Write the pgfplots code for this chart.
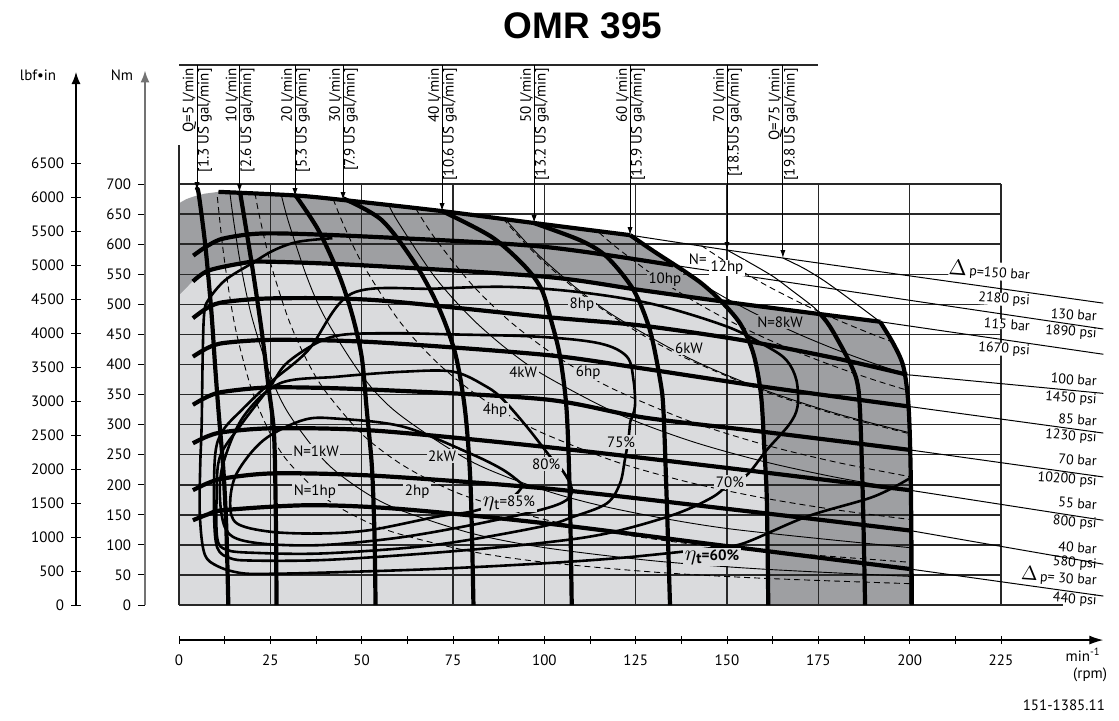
\documentclass[border=0pt]{standalone}
\usepackage{fontspec}
\setmainfont{PT Sans}
\newfontfamily\titlefont{Liberation Sans}
\usepackage{pgfplots}
\pgfplotsset{compat=1.18}
\usetikzlibrary{arrows.meta}

\definecolor{lightreg}{RGB}{218,219,221}
\definecolor{darkreg}{RGB}{158,159,162}
\definecolor{gridc}{RGB}{40,40,40}

\pgfplotsset{
  qthick/.style={black, line width=2.1pt, smooth, tension=0.5},
  qthin/.style={black, line width=0.5pt, smooth, tension=0.5},
  pthick/.style={black, line width=2.1pt, smooth, tension=0.5},
  pthin/.style={black, line width=0.5pt},
  eta/.style={black, line width=1.3pt, smooth, tension=0.55},
  kw/.style={black, line width=0.45pt, smooth},
  hp/.style={black, line width=0.45pt, smooth, dash pattern=on 3pt off 2pt},
  gridl/.style={gridc, line width=0.75pt},
}
\tikzset{
  lab/.style={font=\fontsize{7.5}{9}\selectfont, inner sep=0.8pt},
  plab/.style={font=\fontsize{7}{8}\selectfont, inner sep=0pt, rotate=-4},
}

% flow line: n at arrow, arrow tip T, two labels
\newcommand{\flow}[4]{%
  \node[lab, rotate=90, anchor=east, fill=white, inner sep=0pt] at (axis cs:{#1-2.05},893) {#3};
  \node[lab, rotate=90, anchor=east, fill=white, inner sep=0pt] at (axis cs:{#1+2.19},893) {#4};
  \addplot[black, line width=0.5pt, -{Latex[length=4pt,width=2.6pt]}] coordinates {(#1,898) (#1,#2)};
}

\begin{document}
\begin{tikzpicture}

% ---------- main chart (rpm vs Nm) ----------
\begin{axis}[
  at={(0pt,0pt)}, anchor=south west,
  x=1.8265pt, y=0.3007pt,
  xmin=0, xmax=225, ymin=0, ymax=700,
  hide axis, clip=false,
]
\path (axis cs:-49,-191.2) rectangle (axis cs:257.3,1006);

% intermittent (dark) and continuous (light) areas
\addplot[fill=darkreg, draw=none] coordinates {
  (0,0) (0,668) (2,675) (4.4,680) (7,684) (10.8,687) (31.8,681) (45,673.4)
  (72,655) (97.2,635.2) (123.5,615) (130,588) (137.1,560) (143,535)
  (148.5,505) (170,488) (192,471) (195.5,435) (198.3,396) (199.7,330)
  (200.3,213) (200.6,0)} \closedcycle;
\addplot[fill=lightreg, draw=none] coordinates {
  (0,0) (0,515) (2,527) (4,540) (8,556) (12,563) (17,568) (23.5,571)
  (50,565) (75,556) (100,546) (115,536) (126,524) (138,514) (148.5,505)
  (151.5,488) (153.6,468) (157.2,418.5) (159.3,350) (160.3,250)
  (160.9,175) (161.3,0)} \closedcycle;

% grid
\addplot[gridl] coordinates {(25,0) (25,700)};
\addplot[gridl] coordinates {(50,0) (50,700)};
\addplot[gridl] coordinates {(75,0) (75,700)};
\addplot[gridl] coordinates {(100,0) (100,700)};
\addplot[gridl] coordinates {(125,0) (125,700)};
\addplot[gridl] coordinates {(150,0) (150,700)};
\addplot[gridl] coordinates {(175,0) (175,700)};
\addplot[gridl] coordinates {(200,0) (200,700)};
\addplot[gridl] coordinates {(225,0) (225,700)};
\addplot[gridl] coordinates {(0,0) (242,0)};
\addplot[gridl] coordinates {(0,50) (225,50)};
\addplot[gridl] coordinates {(0,100) (225,100)};
\addplot[gridl] coordinates {(0,150) (225,150)};
\addplot[gridl] coordinates {(0,200) (225,200)};
\addplot[gridl] coordinates {(0,250) (225,250)};
\addplot[gridl] coordinates {(0,300) (225,300)};
\addplot[gridl] coordinates {(0,350) (225,350)};
\addplot[gridl] coordinates {(0,400) (225,400)};
\addplot[gridl] coordinates {(0,450) (225,450)};
\addplot[gridl] coordinates {(0,500) (225,500)};
\addplot[gridl] coordinates {(0,550) (225,550)};
\addplot[gridl] coordinates {(0,600) (225,600)};
\addplot[gridl] coordinates {(0,650) (225,650)};
\addplot[gridl] coordinates {(0,700) (225,700)};
\addplot[gridl] coordinates {(0,0) (0,765)};
\addplot[gridl] coordinates {(0,898) (175,898)};

% power lines, kW (solid) and hp (dashed)
\addplot[kw] coordinates {(13.9,687) (15,636.6) (17,561.7) (20,477.5) (25,382) (30,318.3) (40,238.7) (50,191) (60,159.2) (80,119.4) (100,95.5) (130,73.5) (160,59.7) (200,47.7)};
\addplot[kw] coordinates {(28,682) (30,636.6) (35,545.7) (40,477.5) (50,382) (60,318.3) (80,238.7) (100,191) (120,159.2) (150,127.3) (200,95.5)};
\addplot[kw] coordinates {(57.3,666.6) (60,636.6) (70,545.7) (80,477.5) (90,424.4) (100,382) (120,318.3) (140,272.8) (160,238.7) (180,212.2) (200,191)};
\addplot[kw] coordinates {(89,643.8) (95,603.1) (100,573) (110,520.9) (120,477.5) (140,409.3) (160,358.1) (180,318.3) (200,286.5)};
\addplot[kw] coordinates {(124,616.1) (130,587.6) (140,545.7) (150,509.3) (160,477.5) (170,449.4) (180,424.4) (190,402.1) (198,385.8)};
\addplot[hp] coordinates {(10.5,678.2) (12,593.4) (14,508.6) (16,445.1) (20,356) (25,284.8) (30,237.4) (40,178) (50,142.4) (60,118.7) (80,89) (100,71.2) (130,54.8) (160,44.5) (200,35.6)};
\addplot[hp] coordinates {(20.8,684.7) (22,647.4) (25,569.7) (30,474.7) (35,406.9) (40,356) (50,284.8) (60,237.4) (70,203.5) (80,178) (100,142.4) (120,118.7) (150,94.9) (200,71.2)};
\addplot[hp] coordinates {(42.2,675) (45,633) (50,569.7) (60,474.7) (70,406.9) (80,356) (90,316.5) (100,284.8) (120,237.4) (140,203.5) (160,178) (180,158.2) (200,142.4)};
\addplot[hp] coordinates {(64.8,659.4) (70,610.4) (80,534.1) (90,474.7) (100,427.3) (110,388.4) (120,356) (140,305.2) (160,267) (180,237.4) (200,213.6)};
\addplot[hp] coordinates {(88.7,642.3) (95,599.7) (100,569.7) (110,517.9) (120,474.7) (130,438.2) (140,406.9) (160,356) (180,316.5) (200,284.8)};
\addplot[hp] coordinates {(115,619.2) (120,593.4) (130,547.8) (140,508.6) (150,474.7) (160,445.1) (170,418.9) (180,395.6) (190,374.8) (199,357.8)};
\addplot[hp] coordinates {(143,597.6) (150,569.7) (160,534.1) (170,502.7) (180,474.7) (190,449.7) (195,438.2)};

% efficiency contours
\addplot[eta] coordinates {(94.2,199.5) (88.8,224.5) (79.7,252) (61.4,296.5) (43.2,310) (34,307.6) (23.1,274) (15.8,219) (14,169) (15.8,136) (24.9,122) (38.6,119) (52.3,124.7) (70.5,146.8) (79.7,155) (87,168) (92,183) (94.2,199.5)};
\addplot[eta] coordinates {(101.6,246.6) (95.2,296.5) (88.8,341) (84.2,363) (75.1,388) (61.4,388) (43.2,379.6) (27.6,368.6) (17.6,313) (12.1,235.6) (11.2,180) (12.5,130) (16,110) (25,101) (40,100) (60,112) (80,133) (98.8,158) (106.1,174.6) (107.5,194) (105.2,221.6) (101.6,246.6)};
\addplot[eta] coordinates {(123.5,305) (124.8,330) (124.4,374) (122.6,413) (115.2,435) (98.8,446) (75,450) (55,452) (41.3,445) (30,405) (24.9,363) (17,300) (11.2,246.6) (10.3,180) (10.5,110) (13,92) (20,87) (40,86) (70,100) (98.8,130) (108,147) (117.1,169) (120.7,202) (122,240) (123,275) (123.5,305)};
\addplot[eta] coordinates {(150.8,204.5) (155.4,216) (160.9,258) (167,300) (169.3,330) (169,374) (166.3,407) (160.9,430) (150,463) (130,500) (110,520) (90.1,529) (70,526) (47.3,518) (35.4,424) (25,370) (17.1,324) (12,290) (9.9,250) (9.6,150) (10.5,95) (14,78) (20,74) (40,75) (70,87) (98.8,103) (117,119) (135.3,150) (146.2,180) (150.8,204.5)};
\addplot[eta] coordinates {(200,210.7) (190,180) (171.8,147) (154.5,102.6) (146,95) (137.6,88.6) (120,78) (98.8,69) (70,60) (40,54) (25,52) (17.2,53) (10.8,64) (7,85) (5.7,150) (5.8,230) (6.2,300) (6.5,420) (6.9,485) (8,507) (12.6,540) (19.9,568) (26,590) (32.6,604) (42,610)};

% pressure lines: thin extensions
\addplot[pthin] coordinates {(123.5,615) (150,590.3) (165.3,577) (253,502)};
\addplot[pthin] coordinates {(135.3,565) (253,459)};
\addplot[pthin] coordinates {(192,471) (253,417)};
\addplot[pthin] coordinates {(199.3,383) (253,352)};
\addplot[pthin] coordinates {(200,330) (253,286)};
\addplot[pthin] coordinates {(200,258) (253,213)};
\addplot[pthin] coordinates {(200,191) (253,141)};
\addplot[pthin] coordinates {(200,124) (253,68)};
\addplot[pthin] coordinates {(200,60) (253,15)};
% pressure lines: thick parts (150 ... 30 bar)
\addplot[pthick] coordinates {(10.8,687) (31.8,681) (45,673.4) (72,655) (97.2,635.2) (123.5,615)};
\addplot[pthick] coordinates {(3.9,581) (8,598) (12.6,610) (24.4,618) (53.7,612) (99.3,596) (135.3,565)};
\addplot[pthick] coordinates {(3.8,538) (8,556) (17,568) (23.5,571) (50,565) (100,546) (126,524) (148.5,505) (170,488) (192,471)};
\addplot[pthick] coordinates {(3.8,477) (8,495) (12.6,504) (26.3,510) (53.7,507) (100.2,479) (126.2,465) (153.6,441) (180,410) (199.3,383)};
\addplot[pthick] coordinates {(3.8,413) (8,428) (12.6,436) (26.3,441) (53.7,437) (100.2,416) (126.2,394) (160,363) (200,330)};
\addplot[pthick] coordinates {(3.8,333) (8,347) (12.6,355) (26.3,362) (53.7,358) (100.2,342) (127,312) (160,288) (200,258)};
\addplot[pthick] coordinates {(3.8,269) (8,281) (12.6,288) (26.3,294) (53.7,290) (100.2,263) (150,228) (200,191)};
\addplot[pthick] coordinates {(3.8,191) (8,203) (12.6,211) (26.3,219) (53.7,215) (100.2,194) (150,160) (200,124)};
\addplot[pthick] coordinates {(3.8,141) (8,151) (12.6,158) (35.4,166) (60,160) (100.2,136) (150,98) (200,60)};

% flow lines Q = 5 ... 75 l/min
\addplot[qthick] coordinates {(4.85,690) (5.3,687) (6.7,624) (7.6,574) (8.9,485) (9.9,396) (10.8,324) (12.2,220) (13,120) (13.5,0)};
\addplot[qthick] coordinates {(16.7,687) (19.9,568) (22.6,457) (24.5,363) (26,285) (26.5,150) (26.7,0)};
\addplot[qthick] coordinates {(31.8,682) (38.1,624) (43.6,552) (47.3,485) (50,413) (51.4,324) (52.8,230) (53.5,120) (53.8,0)};
\addplot[qthick] coordinates {(45,676) (55.5,640) (64.6,568) (71,496) (75.6,418.5) (78.3,324) (79.8,200) (80.6,0)};
\addplot[qthick] coordinates {(72,655) (85.6,612) (94.7,563) (99.3,524) (102,470) (104.3,413) (106.1,324) (107,175) (107.5,0)};
\addplot[qthick] coordinates {(97.2,635) (110,606) (117.1,579) (124.4,524) (128.9,457) (131.7,374) (132.6,324) (133.5,175) (134.4,0)};
\addplot[qthick] coordinates {(123.5,615) (130,588) (137.1,560) (143,535) (148.1,507) (153.6,468) (157.2,418.5) (159.3,350) (160.3,250) (160.9,175) (161.3,0)};
\addplot[qthin] coordinates {(150,590.3) (156,570) (162.7,546) (168,522) (173.6,496) (175.5,484)};
\addplot[qthick] coordinates {(175.5,484) (178.2,463) (182.8,413) (185.5,374) (186.4,324) (187.2,175) (187.8,0)};
\addplot[qthin] coordinates {(165.3,577) (171,560) (176.4,540) (181.5,518) (186.4,496) (191.9,471)};
\addplot[qthick] coordinates {(191.9,471) (195.5,435) (198.3,396) (199.7,330) (200.3,213) (200.6,0)};

% flow labels and arrows
\flow{4.93}{690}{Q=5 l/min}{[1.3 US gal/min]}
\flow{16.56}{686.7}{10 l/min}{[2.6 US gal/min]}
\flow{31.75}{680}{20 l/min}{[5.3 US gal/min]}
\flow{44.9}{673.4}{30 l/min}{[7.9 US gal/min]}
\flow{72.0}{655}{40 l/min}{[10.6 US gal/min]}
\flow{97.2}{635.2}{50 l/min}{[13.2 US gal/min]}
\flow{123.46}{615.2}{60 l/min}{[15.9 US gal/min]}
\flow{150.0}{590.3}{70 l/min}{[18.5US gal/min]}
\flow{165.3}{577}{Q=75 l/min}{[19.8 US gal/min]}

% power and efficiency labels
\node[lab, fill=lightreg] at (axis cs:37.5,256) {N=1kW};
\node[lab, fill=lightreg] at (axis cs:72,247.8) {2kW};
\node[lab, fill=lightreg] at (axis cs:37.2,188) {N=1hp};
\node[lab, fill=lightreg] at (axis cs:65.2,188) {2hp};
\node[lab, fill=lightreg] at (axis cs:90.3,169.6) {{\fontsize{11}{11}\selectfont$\eta$}\raisebox{-1.5pt}{t}=85\%};
\node[lab, fill=lightreg] at (axis cs:94.2,387.4) {4kW};
\node[lab, fill=lightreg] at (axis cs:112,385.8) {6hp};
\node[lab, fill=lightreg] at (axis cs:86.5,322.6) {4hp};
\node[lab, fill=lightreg] at (axis cs:100.5,234.5) {80\%};
\node[lab, fill=lightreg] at (axis cs:121,271) {75\%};
\node[lab, fill=lightreg] at (axis cs:150.8,204.5) {70\%};
\node[lab, fill=lightreg, font=\fontsize{7.5}{9}\selectfont\bfseries] at (axis cs:145.9,79.8) {{\fontsize{11}{11}\selectfont$\eta$}\raisebox{-1.5pt}{t}=60\%};
\node[lab, fill=lightreg] at (axis cs:110.3,498.8) {8hp};
\node[lab, fill=lightreg] at (axis cs:139.6,427.3) {6kW};
\node[lab, fill=darkreg] at (axis cs:133,540.4) {10hp};
\node[lab, fill=darkreg] at (axis cs:164.5,470.6) {N=8kW};
\node[lab, fill=white] at (axis cs:142,575.3) {N=};
\node[lab, fill=white] at (axis cs:150,560.4) {12hp};

% pressure labels
\node[plab, anchor=east, fill=white] at (axis cs:233,551) {{\fontsize{11}{11}\selectfont$\Delta$}\,p=150 bar};
\node[plab, anchor=east, fill=white] at (axis cs:233,505) {2180 psi};
\node[plab, anchor=east, fill=white] at (axis cs:233,464) {115 bar};
\node[plab, anchor=east, fill=white] at (axis cs:233,422) {1670 psi};
\node[plab, anchor=east] at (axis cs:251.3,480) {130 bar};
\node[plab, anchor=east] at (axis cs:251.3,450) {1890 psi};
\node[plab, anchor=east] at (axis cs:251.3,372) {100 bar};
\node[plab, anchor=east] at (axis cs:251.3,340) {1450 psi};
\node[plab, anchor=east] at (axis cs:251.3,306) {85 bar};
\node[plab, anchor=east] at (axis cs:251.3,277) {1230 psi};
\node[plab, anchor=east] at (axis cs:251.3,239) {70 bar};
\node[plab, anchor=east] at (axis cs:251.3,205) {10200 psi};
\node[plab, anchor=east] at (axis cs:251.3,167) {55 bar};
\node[plab, anchor=east] at (axis cs:251.3,134) {800 psi};
\node[plab, anchor=east] at (axis cs:251.3,93) {40 bar};
\node[plab, anchor=east] at (axis cs:251.3,67) {580 psi};
\node[plab, anchor=east] at (axis cs:251.3,42) {{\fontsize{10}{10}\selectfont$\Delta$}\,p= 30 bar};
\node[plab, anchor=east] at (axis cs:251.3,6) {440 psi};

% titles and axis names
\node[font=\titlefont\bfseries\fontsize{18.5}{22}\selectfont] at (axis cs:110.6,962.8) {OMR 395};
\node[lab] at (axis cs:-38.6,881) {lbf\textbullet in};
\node[lab] at (axis cs:-15.6,881) {Nm};
\node[lab] at (axis cs:247.5,-83) {min\textsuperscript{-1}};
\node[lab] at (axis cs:249.4,-116.4) {(rpm)};
\node[lab, anchor=east] at (axis cs:254,-166) {151-1385.11};
\end{axis}

% ---------- Nm axis ----------
\begin{axis}[
  at={(-17pt,0pt)}, anchor=south west,
  x=1pt, y=0.3007pt, xmin=0, xmax=1, ymin=0, ymax=889,
  axis x line=none, axis y line=left,
  y axis line style={draw=black!55, line width=1pt, -{Latex[length=6pt,width=4.5pt]}},
  ytick={0,50,...,700}, ytick align=outside, major tick length=3.5pt,
  tick style={black, line width=0.5pt},
  yticklabel style={font=\fontsize{7.5}{9}\selectfont},
  /pgf/number format/assume math mode=true,
]
\addplot[draw=none] coordinates {(0,0)};
\end{axis}

% ---------- lbf in axis ----------
\begin{axis}[
  at={(-51.5pt,0pt)}, anchor=south west,
  x=1pt, y=0.034pt, xmin=0, xmax=1, ymin=0, ymax=7838,
  axis x line=none, axis y line=left,
  y axis line style={black, line width=0.6pt, -{Latex[length=6pt,width=4.5pt]}},
  ytick={0,500,...,6500}, ytick align=center, major tick length=5pt,
  tick style={black, line width=0.5pt},
  yticklabel style={font=\fontsize{7.5}{9}\selectfont},
  scaled y ticks=false,
  /pgf/number format/1000 sep={},
  /pgf/number format/assume math mode=true,
]
\addplot[draw=none] coordinates {(0,0)};
\end{axis}

% ---------- rpm axis ----------
\begin{axis}[
  at={(0pt,-17.5pt)}, anchor=south west,
  x=1.8265pt, y=1pt, xmin=0, xmax=253, ymin=0, ymax=1,
  axis y line=none, axis x line=bottom,
  x axis line style={black, line width=0.6pt, -{Latex[length=7pt,width=4.5pt]}},
  xtick={0,25,...,225}, minor xtick={12.5,37.5,...,212.5},
  xtick align=center, major tick length=4pt, minor tick length=4pt,
  tick style={black, line width=0.5pt},
  xticklabel style={font=\fontsize{7.5}{9}\selectfont, yshift=-2pt},
  /pgf/number format/assume math mode=true,
]
\addplot[draw=none] coordinates {(0,0)};
\end{axis}

\end{tikzpicture}
\end{document}
